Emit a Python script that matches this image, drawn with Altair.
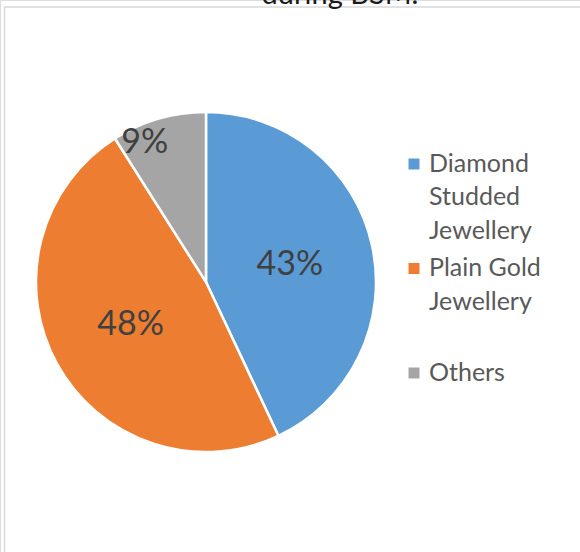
import altair as alt
import pandas as pd

categories = ["Diamond Studded Jewellery", "Plain Gold Jewellery", "Others"]
legend_lines = [["Diamond", "Studded", "Jewellery"], ["Plain Gold", "Jewellery"], ["Others"]]
shares = [43, 48, 9]
colors = ["#5B9BD5", "#ED7D31", "#A5A5A5"]
title_text = "during BSM."

df = pd.DataFrame({
    "category": categories,
    "share": shares,
    "order": list(range(len(categories))),
    "legend": ["|".join(l) for l in legend_lines],
})

FONT = "Lato"
CX, CY, R = 206, 282, 170

color = alt.Color("category:N", scale=alt.Scale(domain=categories, range=colors), legend=None)

base = alt.Chart(df)

pie = base.mark_arc(radius=R, stroke="white", strokeWidth=2.5).encode(
    theta=alt.Theta("share:Q", stack=True),
    order=alt.Order("order:Q"),
    color=color,
    x=alt.value(CX),
    y=alt.value(CY),
)

labels = base.transform_joinaggregate(
    total="sum(share)"
).transform_window(
    cum="sum(share)", sort=[alt.SortField("order")], frame=[None, 0]
).transform_calculate(
    ang="((datum.cum - datum.share / 2) / datum.total) * 2 * PI - (datum.share / datum.total < 0.1 ? 0.126 : 0)",
    rad="datum.share / datum.total < 0.1 ? 154 : 86",
    txt="format(datum.share / datum.total, '.0%')",
).mark_text(font=FONT, fontSize=34, color="#404040", baseline="middle", align="center").encode(
    theta=alt.Theta("ang:Q", scale=None),
    radius=alt.Radius("rad:Q", scale=None),
    text="txt:N",
    x=alt.value(CX),
    y=alt.value(CY + 2),
)

leg_base = base.transform_calculate(
    ly="164 + 104.5 * datum.order",
    lt="171.5 + 104.5 * datum.order",
    lines="split(datum.legend, '|')",
)

leg_sym = leg_base.mark_square(size=121, opacity=1).encode(
    x=alt.value(414),
    y=alt.Y("ly:Q", scale=None),
    color=color,
)

leg_txt = leg_base.mark_text(
    font=FONT, fontSize=25, color="#595959", align="left", baseline="alphabetic", lineHeight=33.5
).encode(
    x=alt.value(429),
    y=alt.Y("lt:Q", scale=None),
    text="lines:N",
)

frame = base.mark_rect(fill=None, stroke="#d9d9d9", strokeWidth=1.5).encode(
    x=alt.value(4.5), x2=alt.value(700), y=alt.value(7), y2=alt.value(700)
).transform_filter("datum.order == 0")

title = base.transform_filter("datum.order == 0").mark_text(
    font=FONT, fontSize=29, color="#1a1a1a", align="center", baseline="alphabetic"
).encode(
    x=alt.value(340), y=alt.value(4), text=alt.value(title_text)
)

chart = alt.layer(frame, pie, labels, leg_sym, leg_txt, title).properties(
    width=580, height=552, padding=0, autosize=alt.AutoSizeParams(type="none")
).configure_view(stroke=None).configure(background="white")

chart.save("out.html", embed_options={"renderer": "svg", "actions": False})
